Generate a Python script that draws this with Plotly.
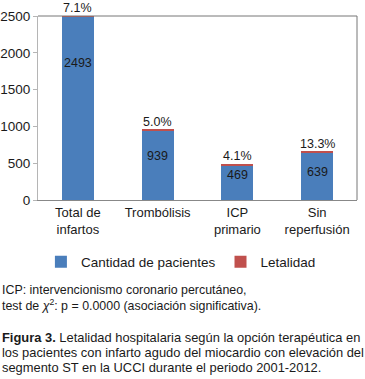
import plotly.graph_objects as go

categories = ["Total de<br>infartos", "Trombólisis", "ICP<br>primario", "Sin<br>reperfusión"]
pacientes = [2493, 939, 469, 639]
letalidad_pct = [7.1, 5.0, 4.1, 13.3]
letalidad_seg = [15, 15, 15, 25]   # visual thickness of red cap (axis units, estimated)
y_ticks = [0, 500, 1000, 1500, 2000, 2500]

# label drop (px) below top of blue bar, per bar (style)
label_drop = [46, 25, 10, 19]

FONT = "Liberation Sans, Arial, Helvetica, sans-serif"
BLUE = "#4a7ebb"
RED = "#c0504d"
TXT = "#1a1a1a"

fig = go.Figure()
fig.add_bar(x=categories, y=pacientes, name="Cantidad de pacientes",
            marker=dict(color=BLUE, line=dict(width=0)), width=0.4)
fig.add_bar(x=categories, y=letalidad_seg, name="Letalidad",
            marker=dict(color=RED, line=dict(width=0)), width=0.4)

annotations = []
for c, v, d in zip(categories, pacientes, label_drop):
    annotations.append(dict(x=c, y=v, xref="x", yref="y", text=str(v), showarrow=False,
                            yanchor="middle", yshift=-d, font=dict(size=12.5, color=TXT, family=FONT)))
for c, v, p in zip(categories, pacientes, letalidad_pct):
    annotations.append(dict(x=c, y=v, xref="x", yref="y", text=f"{p:.1f}%", showarrow=False,
                            yanchor="bottom", yshift=0, font=dict(size=12.5, color=TXT, family=FONT)))

# notes and caption below the chart (positioned in pixels relative to plot bottom)
def below(text, py, size):
    return dict(x=0, xref="paper", xanchor="left", y=0, yref="paper", yanchor="middle",
                xshift=-38, yshift=200 - py, text=text, showarrow=False, align="left",
                font=dict(size=size, color=TXT, family=FONT))

annotations.append(below("ICP: intervencionismo coronario percutáneo,", 290, 12.4))
annotations.append(below("test de <i>χ</i><sup>2</sup>: p = 0.0000 (asociación significativa).", 305, 12.4))
annotations.append(below("<b>Figura 3.</b> Letalidad hospitalaria según la opción terapéutica en", 337, 12.9))
annotations.append(below("los pacientes con infarto agudo del miocardio con elevación del", 352, 12.9))
annotations.append(below("segmento ST en la UCCI durante el periodo 2001-2012.", 367, 12.9))

fig.update_layout(
    width=365, height=379,
    margin=dict(l=38, r=8, t=16, b=179, autoexpand=False),
    barmode="stack",
    plot_bgcolor="white", paper_bgcolor="white",
    font=dict(family=FONT, size=13, color=TXT),
    showlegend=True,
    legend=dict(orientation="h", x=0.448, xanchor="center", y=-0.337, yanchor="middle",
                font=dict(size=13.5, color=TXT, family=FONT), traceorder="normal",
                itemclick=False),
    annotations=annotations,
    shapes=[
        dict(type="line", xref="paper", yref="paper", x0=0, x1=1, y0=1, y1=1,
             line=dict(color="#777777", width=1)),
        dict(type="line", xref="paper", yref="paper", x0=1, x1=1, y0=0, y1=1,
             line=dict(color="#777777", width=1)),
    ],
    xaxis=dict(showline=True, linecolor="#888888", linewidth=1, ticks="", automargin=False,
               tickfont=dict(size=13, color=TXT, family=FONT), showgrid=False),
    yaxis=dict(range=[0, 2500], tickvals=y_ticks, showline=True, linecolor="#b5b5b5",
               ticks="outside", ticklen=4, tickcolor="#b5b5b5", showgrid=False, zeroline=False,
               automargin=False, tickfont=dict(size=13.5, color=TXT, family=FONT)),
)

fig.write_html("out.html", config={"displayModeBar": False},
               post_script="document.body.style.margin='0';document.body.style.overflow='hidden';")
